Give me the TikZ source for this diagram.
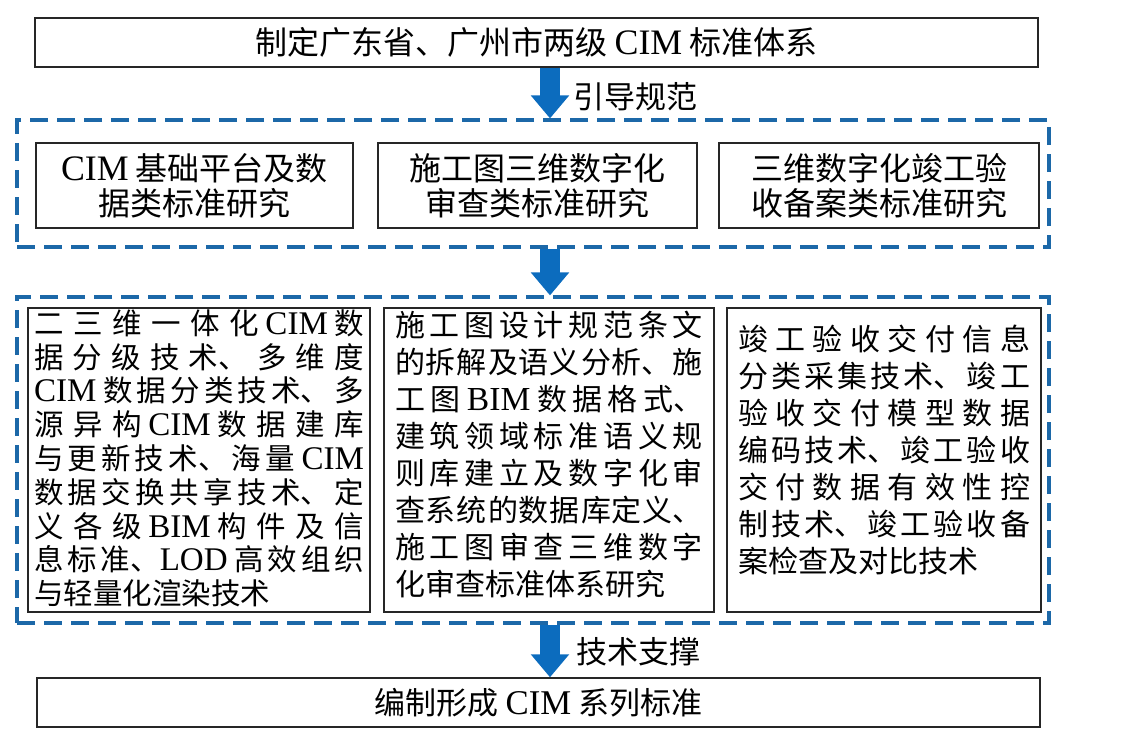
\documentclass[tikz,border=0pt]{standalone}
\usepackage{fontspec}
\setmainfont{Noto Sans CJK SC}
\newfontfamily\latfont[Scale=1.12]{Liberation Serif}
\newcommand\en[1]{{\latfont #1}}
\newcommand\justo{\XeTeXlinebreaklocale "zh"\XeTeXlinebreakskip=0pt plus 1fil minus 2pt\parfillskip=0pt plus 1fill\fontsize{30}{34.5}\selectfont}
\usetikzlibrary{arrows.meta,calc}

\definecolor{azulraya}{RGB}{28,104,168}
\definecolor{azulflecha}{RGB}{12,108,190}

\tikzset{
  caja/.style={draw=black!85, line width=1.4pt, fill=white, inner sep=0pt},
  fila/.style={minimum height=85pt, align=center, font=\fontsize{32}{35}\selectfont},
  marco/.style={draw=azulraya, line width=3.2pt, dash pattern=on 18pt off 9pt},
  flecha/.style={draw=azulflecha, line width=20pt, -{Triangle[length=23pt,width=37pt]}},
  etiqueta/.style={anchor=west, inner sep=0pt, font=\fontsize{31}{35}\selectfont},
}

\begin{document}
\begin{tikzpicture}[x=1pt,y=-1pt]
\useasboundingbox (0,0) rectangle (1137,745);

%%%%%%%%%%%%%%%%%%%%%%%%%%%%%%%%%%%%%%%%%%%%%%%% 	ENCABEZADO
\node[caja, minimum width=1003pt, minimum height=49pt, font=\fontsize{32}{35}\selectfont]
 (norma) at (536.5,42.5) {制定广东省、广州市两级 \en{CIM} 标准体系};

%%%%%%%%%%%%%%%%%%%%%%%%%%%%%%%%%%%%%%%%%%%%%%%% 	MARCOS PUNTEADOS
\node[marco, minimum width=1032pt, minimum height=127pt] (marcoA) at (533,183.5) {};
\node[marco, minimum width=1032pt, minimum height=326pt] (marcoB) at (533,460) {};

%%%%%%%%%%%%%%%%%%%%%%%%%%%%%%%%%%%%%%%%%%%%%%%% 	FILA 1: estudios
\node[caja, fila, minimum width=317pt] (plataforma) at (194.5,185.5) {\en{CIM} 基础平台及数\\据类标准研究};
\node[caja, fila, minimum width=319pt] (revision) at (537.5,185.5) {施工图三维数字化\\审查类标准研究};
\node[caja, fila, minimum width=320pt] (recepcion) at (879,185.5) {三维数字化竣工验\\收备案类标准研究};

%%%%%%%%%%%%%%%%%%%%%%%%%%%%%%%%%%%%%%%%%%%%%%%% 	FILA 2: tecnicas
\node[caja, inner xsep=6pt, inner ysep=1.5pt] (tecDatos) at (199,460) {\parbox[c][301pt][t]{330pt}{\justo\fontsize{29.5}{33.8}\selectfont
二三维一体化 \en{CIM} 数\linebreak
据分级技术、多维度\linebreak
\en{CIM} 数据分类技术、多\linebreak
源异构 \en{CIM} 数据建库\linebreak
与更新技术、海量 \en{CIM}\linebreak
数据交换共享技术、定\linebreak
义各级 \en{BIM} 构件及信\linebreak
息标准、\en{LOD} 高效组织\linebreak
与轻量化渲染技术}};

\node[caja, inner xsep=11pt, inner ysep=1.5pt] (tecRevision) at (549,460) {\parbox[c][301pt][t]{308pt}{\justo\baselineskip=37pt\vspace*{2pt}%
施工图设计规范条文\linebreak
的拆解及语义分析、施\linebreak
工图 \en{BIM} 数据格式、\linebreak
建筑领域标准语义规\linebreak
则库建立及数字化审\linebreak
查系统的数据库定义、\linebreak
施工图审查三维数字\linebreak
化审查标准体系研究}};

\node[caja, inner xsep=11pt, inner ysep=1.5pt] (tecEntrega) at (884,460) {\parbox[c][301pt][t]{292pt}{\justo\baselineskip=37pt
\vspace*{15pt}竣工验收交付信息\linebreak
分类采集技术、竣工\linebreak
验收交付模型数据\linebreak
编码技术、竣工验收\linebreak
交付数据有效性控\linebreak
制技术、竣工验收备\linebreak
案检查及对比技术}};

%%%%%%%%%%%%%%%%%%%%%%%%%%%%%%%%%%%%%%%%%%%%%%%% 	RESULTADO
\node[caja, minimum width=1003pt, minimum height=49pt, font=\fontsize{31}{35}\selectfont]
 (compilar) at (538.5,702.5) {编制形成 \en{CIM} 系列标准};

%%%%%%%%%%%%%%%%%%%%%%%%%%%%%%%%%%%%%%%%%%%%%%%% 	FLECHAS
\coordinate (eje) at (550,0);			%%%%	eje comun de las flechas
\draw[flecha] (norma.south -| eje) -- (marcoA.north -| eje);
\draw[flecha] (marcoA.south -| eje) -- (marcoB.north -| eje);
\draw[flecha] (marcoB.south -| eje) -- (compilar.north -| eje);

\node[etiqueta] (guia) at (573,97) {引导规范};
\node[etiqueta] (soporte) at (576,652) {技术支撑};

\end{tikzpicture}
\end{document}
